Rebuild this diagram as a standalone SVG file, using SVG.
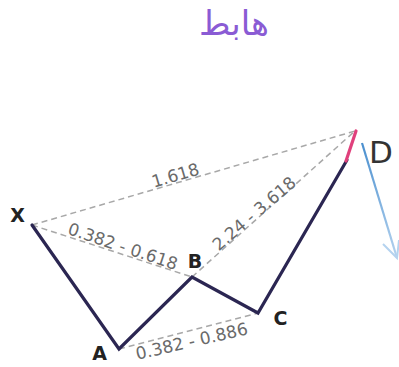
<svg xmlns="http://www.w3.org/2000/svg" width="399" height="367" viewBox="0 0 399 367">
  <defs>
    <style>
      .dash { fill: none; stroke: #a8a8a8; stroke-width: 1.5; stroke-dasharray: 6 4; }
      .ratio { font-family: "DejaVu Sans", sans-serif; font-size: 17px; fill: #6a6a6a; text-anchor: middle; }
      .pt { font-family: "DejaVu Sans", sans-serif; font-size: 19px; font-weight: bold; fill: #222; text-anchor: middle; }
      .leg { fill: none; stroke: #2b2652; stroke-width: 3.2; stroke-linejoin: miter; stroke-linecap: round; }
    </style>
    <linearGradient id="blueG" x1="362" y1="143" x2="398" y2="258" gradientUnits="userSpaceOnUse">
      <stop offset="0" stop-color="#4a8fcf"/>
      <stop offset="1" stop-color="#b5d3ef"/>
    </linearGradient>
  </defs>
  <rect width="399" height="367" fill="#ffffff"/>
  <g id="title">
    <text x="234" y="35" font-family="'DejaVu Sans', sans-serif" font-size="34" fill="#8a5bd4" text-anchor="middle">هابط</text>
  </g>
  <g id="connectors">
    <line class="dash" x1="32" y1="225" x2="355" y2="131"/>
    <line class="dash" x1="32" y1="225" x2="192" y2="277"/>
    <line class="dash" x1="192" y1="277" x2="355" y2="131"/>
    <line class="dash" x1="119" y1="349" x2="258" y2="313"/>
    <polyline class="leg" points="32,225 119,349 192,277 258,313 347,160"/>
    <line x1="346" y1="161" x2="356" y2="131" stroke="#e0407c" stroke-width="3.2" stroke-linecap="round"/>
    <line x1="362" y1="143" x2="397" y2="258" stroke="url(#blueG)" stroke-width="2.2"/>
    <polyline points="383,244 397,258 399,240" fill="none" stroke="#b5d3ef" stroke-width="2"/>
  </g>
  <g id="labels">
    <text class="ratio" transform="translate(177,181) rotate(-16.4)">1.618</text>
    <text class="ratio" transform="translate(121,252) rotate(18.5)">0.382 - 0.618</text>
    <text class="ratio" transform="translate(258,218) rotate(-40.5)">2.24 - 3.618</text>
    <text class="ratio" transform="translate(193,347) rotate(-13)">0.382 - 0.886</text>
  </g>
  <g id="node-X"><text class="pt" x="17.5" y="222">X</text></g>
  <g id="node-A"><text class="pt" x="99.5" y="360">A</text></g>
  <g id="node-B"><text class="pt" x="195" y="268">B</text></g>
  <g id="node-C"><text class="pt" x="280.5" y="325">C</text></g>
  <g id="node-D"><text x="381" y="163" font-family="'DejaVu Sans', sans-serif" font-size="31" fill="#333" text-anchor="middle">D</text></g>
</svg>
